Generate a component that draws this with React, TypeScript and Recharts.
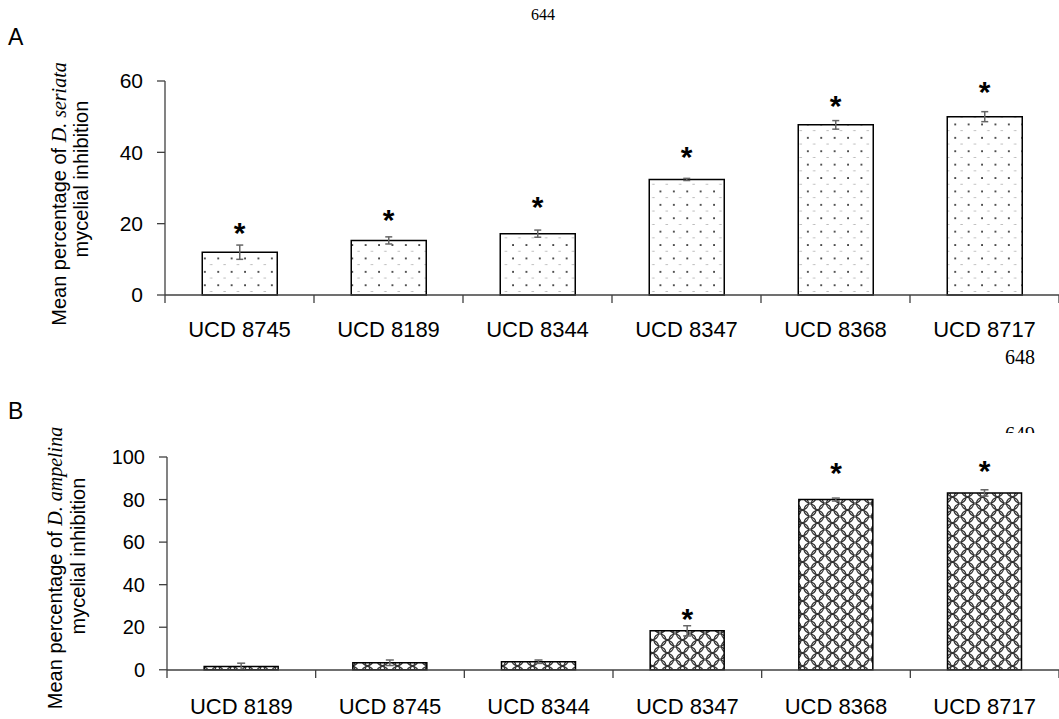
import React from 'react';
import {
  ComposedChart,
  Bar,
  Scatter,
  ErrorBar,
  XAxis,
  YAxis
} from 'recharts';

// panel A
const topStrains = ['UCD 8745', 'UCD 8189', 'UCD 8344', 'UCD 8347', 'UCD 8368', 'UCD 8717'];
const topMeans = [12.0, 15.3, 17.2, 32.4, 47.7, 50.0];
const topErrors = [2.0, 1.0, 1.0, 0.3, 1.2, 1.4];
const topStars = [19.4, 23.0, 26.6, 40.6, 54.9, 58.8];
const topTicks = [0, 20, 40, 60];

// panel B
const bottomStrains = ['UCD 8189', 'UCD 8745', 'UCD 8344', 'UCD 8347', 'UCD 8368', 'UCD 8717'];
const bottomMeans = [1.5, 3.3, 3.8, 18.3, 80.0, 83.1];
const bottomErrors = [1.6, 1.3, 0.8, 2.4, 0.7, 1.5];
const bottomStars = [null, null, null, 27.3, 95.9, 96.9];
const bottomTicks = [0, 20, 40, 60, 80, 100];

const SANS = '"Liberation Sans", Arial, sans-serif';
const SERIF = '"Liberation Serif", "Times New Roman", serif';
const AXIS = '#404040';
const W = 1059;

const topData = topStrains.map((name, i) => ({
  name,
  mean: topMeans[i],
  err: topErrors[i],
  star: topStars[i]
}));

const bottomData = bottomStrains.map((name, i) => ({
  name,
  mean: bottomMeans[i],
  err: bottomErrors[i],
  star: bottomStars[i]
}));

// ticks sit on the category boundaries, labels in the middle
function makeXTick(band: number, labelDy: number, count: number) {
  return (props: any) => {
    const { x, y, payload, index } = props;
    const left = x - band / 2;
    return (
      <g>
        <line x1={left} x2={left} y1={y} y2={y + 8} stroke={AXIS} strokeWidth={1.3} />
        {index === count - 1 && (
          <line x1={x + band / 2} x2={x + band / 2} y1={y} y2={y + 8} stroke={AXIS} strokeWidth={1.3} />
        )}
        <text x={x} y={y + labelDy} textAnchor="middle" fontSize={22} fill="#000" fontFamily={SANS}>
          {payload.value}
        </text>
      </g>
    );
  };
}

const starShape = (props: any) => {
  const { cx, cy, payload } = props;
  if (payload == null || payload.star == null) return <g />;
  return (
    <text x={cx} y={cy + 17} textAnchor="middle" fontSize={30} fontWeight="bold" fill="#000" fontFamily={SANS}>
      *
    </text>
  );
};

function yTitle(species: string, x1: number, c1: number, x2: number, c2: number) {
  return () => (
    <g fill="#000">
      <text transform={`translate(${x1},${c1}) rotate(-90)`} textAnchor="middle" fontSize={20} fontFamily={SANS}>
        Mean percentage of{' '}
        <tspan fontFamily={SERIF} fontStyle="italic">{species}</tspan>
      </text>
      <text transform={`translate(${x2},${c2}) rotate(-90)`} textAnchor="middle" fontSize={20} fontFamily={SANS}>
        mycelial inhibition
      </text>
    </g>
  );
}

function Patterns() {
  return (
    <defs>
      <pattern id="dots" patternUnits="userSpaceOnUse" width={13.4} height={13.4}>
        <rect width={13.4} height={13.4} fill="#fff" />
        <rect x={3} y={3} width={1.7} height={1.7} fill="#222" />
        <rect x={9} y={9.7} width={2.4} height={0.8} fill="#aaa" />
      </pattern>
      <pattern id="rings" patternUnits="userSpaceOnUse" width={15} height={13}>
        <rect width={15} height={13} fill="#fff" />
        <g fill="none" stroke="#333" strokeWidth={1.2}>
          <circle cx={0} cy={0} r={6} />
          <circle cx={15} cy={0} r={6} />
          <circle cx={0} cy={13} r={6} />
          <circle cx={15} cy={13} r={6} />
          <circle cx={7.5} cy={6.5} r={6} />
        </g>
      </pattern>
    </defs>
  );
}

export default function App() {
  const topYW = 165;
  const bottomYW = 167;
  const topBand = (W - topYW) / 6;
  const bottomBand = (W - bottomYW) / 6;

  return (
    <div style={{ position: 'fixed', left: 0, top: 0, width: W, height: 719, background: '#fff', overflow: 'hidden' }}>
      <div style={{ position: 'absolute', left: 8, top: 24, fontSize: 23, fontFamily: SANS }}>A</div>
      <div style={{ position: 'absolute', left: 8, top: 398, fontSize: 23, fontFamily: SANS }}>B</div>
      <div style={{ position: 'absolute', left: 531, top: 6, fontSize: 16, fontFamily: SERIF }}>644</div>
      <div style={{ position: 'absolute', left: 1005, top: 346, fontSize: 20, fontFamily: SERIF }}>648</div>
      <div style={{ position: 'absolute', left: 1005, top: 424, height: 9, overflow: 'hidden', fontSize: 20, lineHeight: '20px', fontFamily: SERIF }}>649</div>

      <div style={{ position: 'absolute', left: 0, top: 0 }}>
        <ComposedChart
          width={W}
          height={345}
          data={topData}
          margin={{ top: 81, right: 0, bottom: 0, left: 0 }}
          barCategoryGap="25%"
        >
          <Patterns />
          <XAxis
            dataKey="name"
            height={50}
            interval={0}
            tickLine={false}
            tickSize={0}
            tickMargin={0}
            axisLine={{ stroke: AXIS, strokeWidth: 1.3 }}
            tick={makeXTick(topBand, 42, topStrains.length)}
          />
          <YAxis
            width={topYW}
            domain={[0, 60]}
            ticks={topTicks}
            tickSize={8}
            tickMargin={14}
            axisLine={{ stroke: AXIS, strokeWidth: 1.3 }}
            tickLine={{ stroke: AXIS, strokeWidth: 1.3 }}
            tick={{ fill: '#000', fontSize: 21, fontFamily: SANS }}
            label={{ content: yTitle('D. seriata', 66, 194, 88, 179) }}
          />
          <Bar dataKey="mean" fill="url(#dots)" stroke="#000" strokeWidth={1.5} isAnimationActive={false}>
            <ErrorBar dataKey="err" direction="y" width={3.5} stroke="#666" strokeWidth={1.5} isAnimationActive={false} />
          </Bar>
          <Scatter dataKey="star" shape={starShape} isAnimationActive={false} />
        </ComposedChart>
      </div>

      <div style={{ position: 'absolute', left: 0, top: 380 }}>
        <ComposedChart
          width={W}
          height={339}
          data={bottomData}
          margin={{ top: 77, right: 0, bottom: 0, left: 0 }}
          barCategoryGap="25%"
        >
          <Patterns />
          <XAxis
            dataKey="name"
            height={49}
            interval={0}
            tickLine={false}
            tickSize={0}
            tickMargin={0}
            axisLine={{ stroke: AXIS, strokeWidth: 1.3 }}
            tick={makeXTick(bottomBand, 44, bottomStrains.length)}
          />
          <YAxis
            width={bottomYW}
            domain={[0, 100]}
            ticks={bottomTicks}
            tickSize={8}
            tickMargin={14}
            axisLine={{ stroke: AXIS, strokeWidth: 1.3 }}
            tickLine={{ stroke: AXIS, strokeWidth: 1.3 }}
            tick={{ fill: '#000', fontSize: 20, fontFamily: SANS }}
            label={{ content: yTitle('D. ampelina', 62, 188, 85, 176) }}
          />
          <Bar dataKey="mean" fill="url(#rings)" stroke="#000" strokeWidth={1.5} isAnimationActive={false}>
            <ErrorBar dataKey="err" direction="y" width={4} stroke="#666" strokeWidth={1.5} isAnimationActive={false} />
          </Bar>
          <Scatter dataKey="star" shape={starShape} isAnimationActive={false} />
        </ComposedChart>
      </div>
    </div>
  );
}
